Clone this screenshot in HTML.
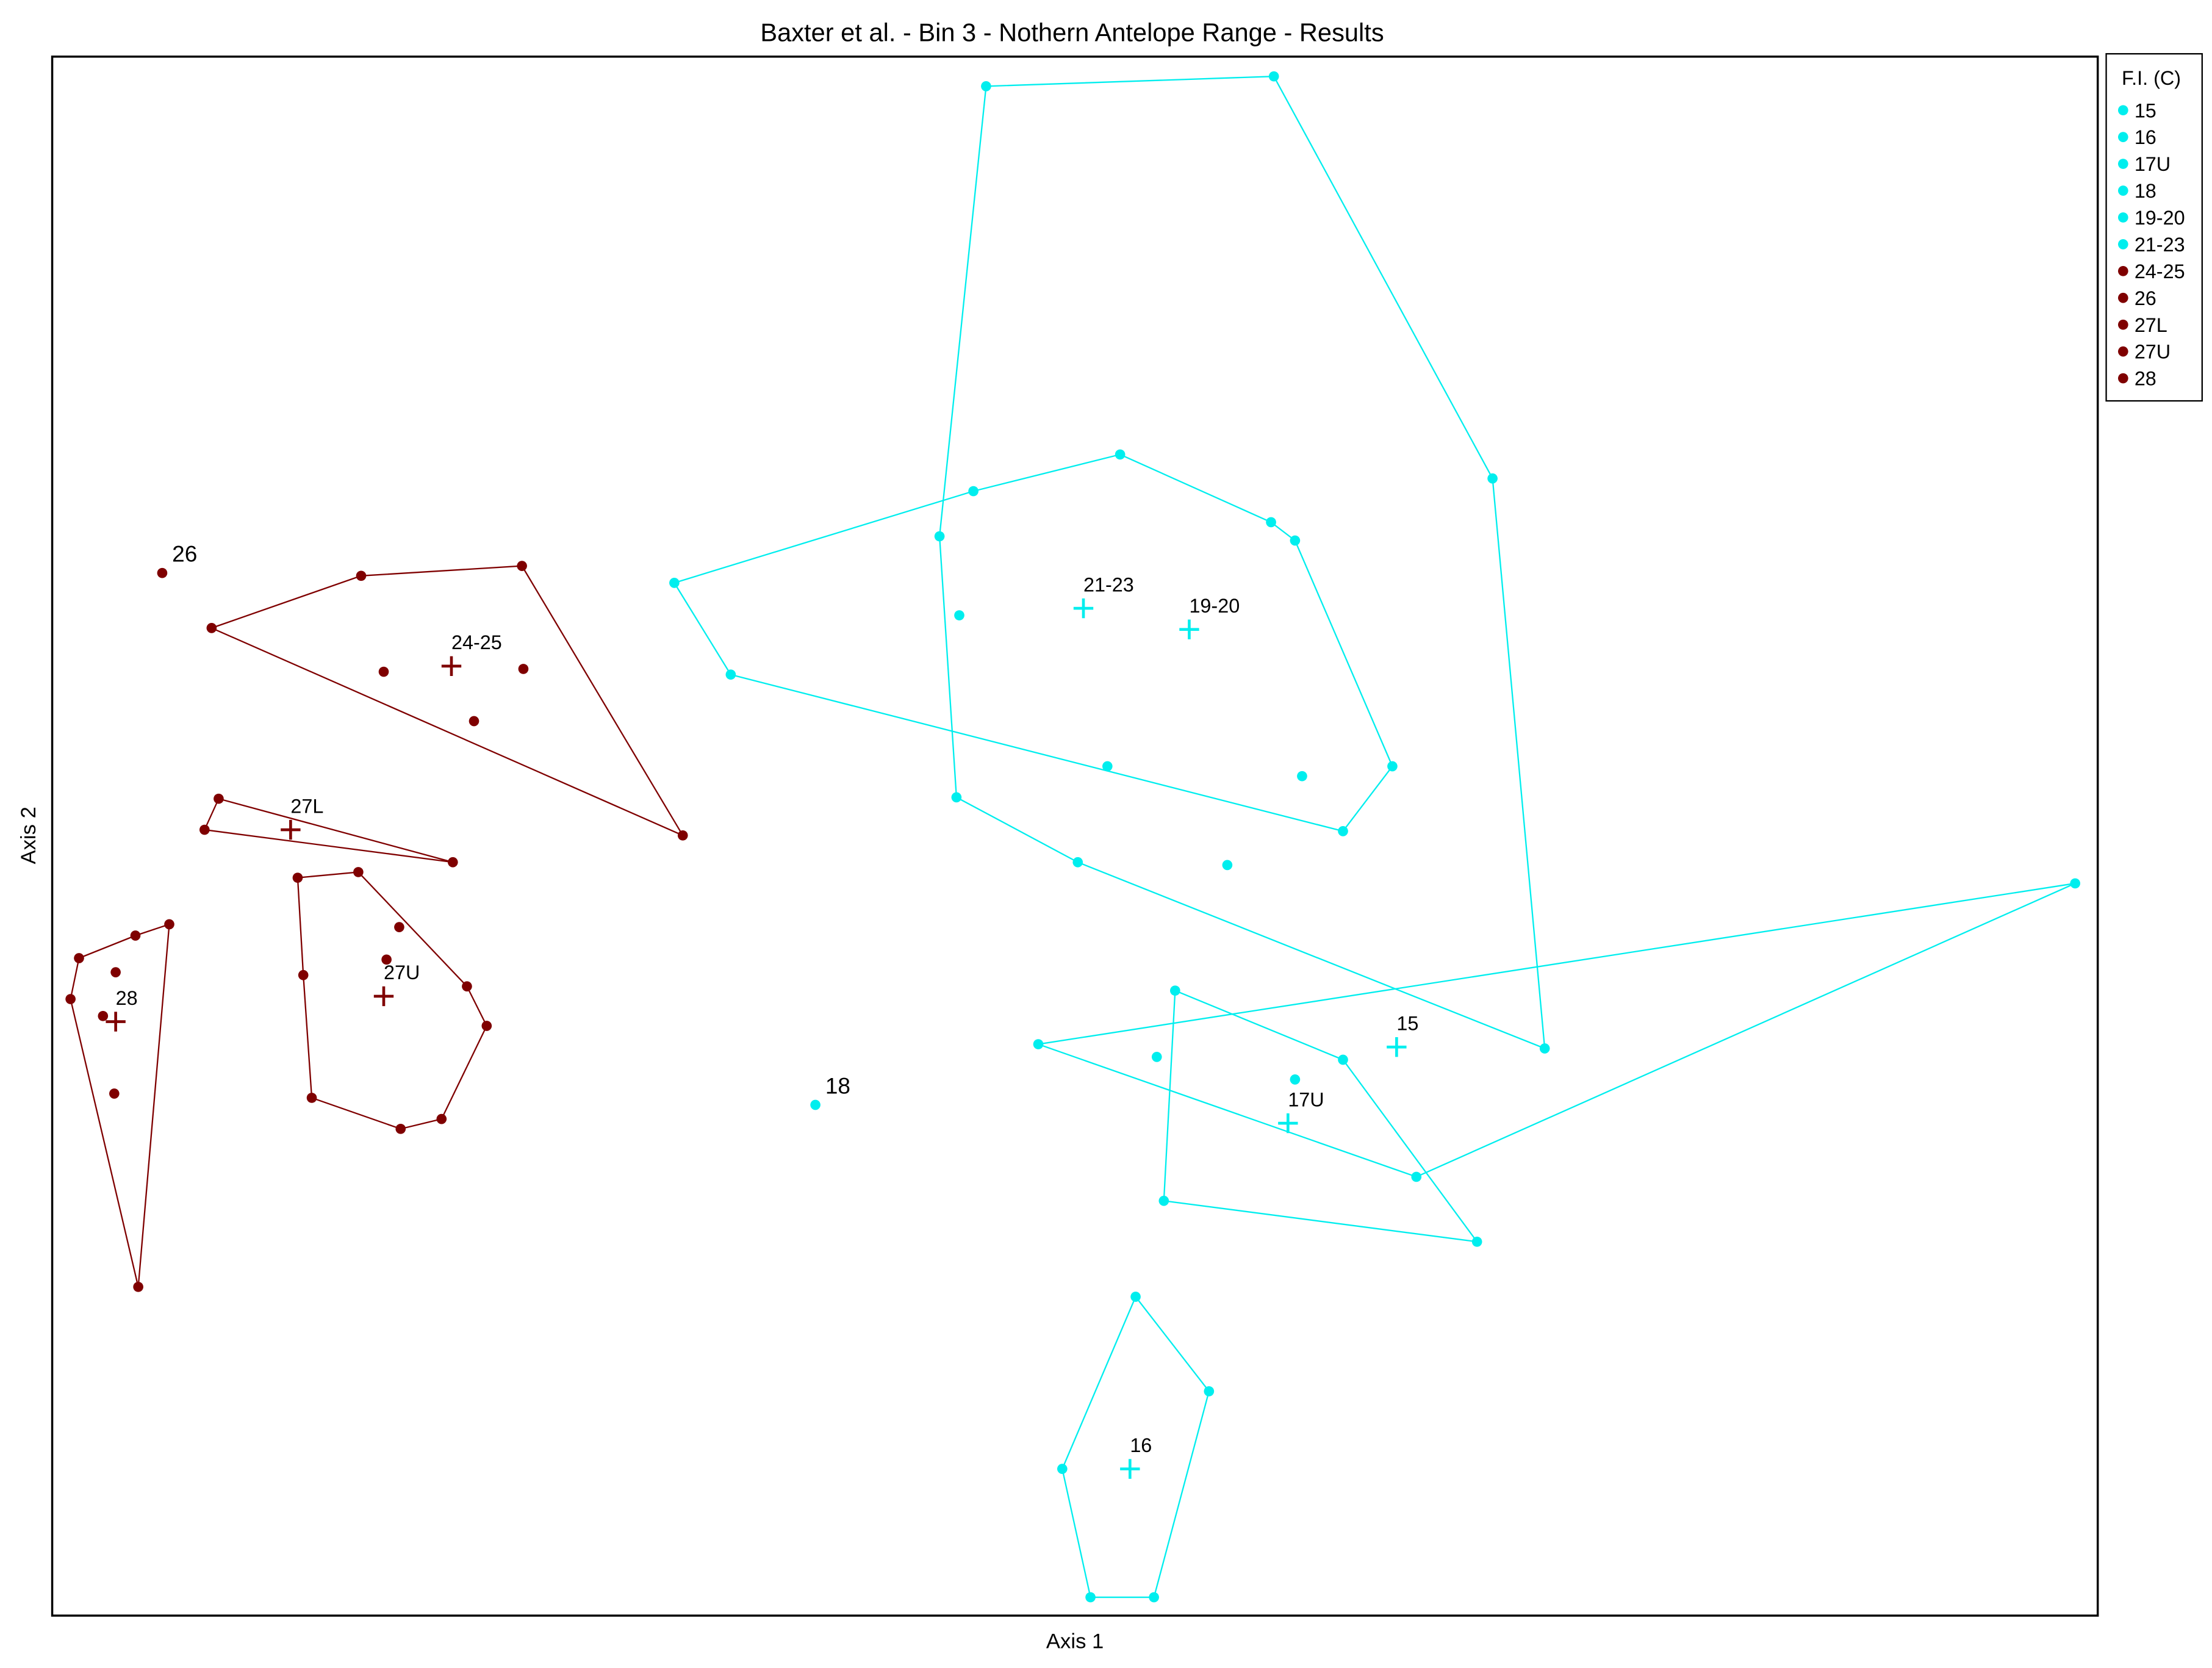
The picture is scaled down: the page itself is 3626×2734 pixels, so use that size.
<!DOCTYPE html>
<html><head><meta charset="utf-8"><style>
html,body{margin:0;padding:0;background:#fff;}
svg{display:block;font-family:"Liberation Sans",Arial,sans-serif;}
</style></head><body>
<svg id="chart" width="3626" height="2734" viewBox="0 0 1568 1182" xmlns="http://www.w3.org/2000/svg">
<rect x="0" y="0" width="1568" height="1182" fill="#fff"/>
<text x="760" y="29" font-size="18" text-anchor="middle">Baxter et al. - Bin 3 - Nothern Antelope Range - Results</text>
<rect x="37" y="40" width="1450" height="1105" fill="none" stroke="#000" stroke-width="1.5"/>
<text x="762" y="1168" font-size="15" text-anchor="middle">Axis 1</text>
<text x="25" y="592" font-size="15" text-anchor="middle" transform="rotate(-90 25 592)">Axis 2</text>
<g id="marks"></g>
<g>
<rect x="1493" y="38" width="68" height="246" fill="#fff" stroke="#000" stroke-width="1"/>
<text x="1504" y="60" font-size="14">F.I. (C)</text>
<g id="legend-items"></g>
</g>
</svg>
<script>
// Data in axis units
const groupNames = ["15","16","17U","18","19-20","21-23","24-25","26","27L","27U","28"];
const groupColors = ["#00EEEE","#00EEEE","#00EEEE","#00EEEE","#00EEEE","#00EEEE","#7F0000","#7F0000","#7F0000","#7F0000","#7F0000"];
const hull15 = [[736,740],[1471,626],[1004,834]];
const inner15 = [[820,749]];
const hull16 = [[805,919],[857,986],[818,1132],[773,1132],[753,1041]];
const inner16 = [];
const hull17U = [[833,702],[952,751],[1047,880],[825,851]];
const inner17U = [[918,765]];
const hull18 = [];
const inner18 = [[578,783]];
const hull1920 = [[699,61],[903,54],[1058,339],[1095,743],[764,611],[678,565],[666,380]];
const inner1920 = [[870,613]];
const hull2123 = [[478,413],[690,348],[794,322],[901,370],[918,383],[987,543],[952,589],[518,478]];
const inner2123 = [[680,436],[785,543],[923,550]];
const hull2425 = [[150,445],[256,408],[370,401],[484,592]];
const inner2425 = [[272,476],[371,474],[336,511]];
const hull26 = [];
const inner26 = [[115,406]];
const hull27L = [[155,566],[321,611],[145,588]];
const inner27L = [];
const hull27U = [[211,622],[254,618],[331,699],[345,727],[313,793],[284,800],[221,778],[215,691]];
const inner27U = [[283,657],[274,680]];
const hull28 = [[56,679],[96,663],[120,655],[98,912],[50,708]];
const inner28 = [[82,689],[73,720],[81,775]];
const centroids = [[990,742],[801,1041],[913,796],null,[843,446],[768,431],[320,472],null,[206,588],[272,706],[82,724]];
const hulls = [hull15,hull16,hull17U,hull18,hull1920,hull2123,hull2425,hull26,hull27L,hull27U,hull28];
const inners = [inner15,inner16,inner17U,inner18,inner1920,inner2123,inner2425,inner26,inner27L,inner27U,inner28];

const xDomain=[37,1487], yDomain=[40,1145];
const xRange=[37,1487], yRange=[40,1145];
function xs(v){return xRange[0]+(v-xDomain[0])/(xDomain[1]-xDomain[0])*(xRange[1]-xRange[0]);}
function ys(v){return yRange[0]+(v-yDomain[0])/(yDomain[1]-yDomain[0])*(yRange[1]-yRange[0]);}
const NS="http://www.w3.org/2000/svg";
const g=document.getElementById('marks');
function mk(t,a){const e=document.createElementNS(NS,t);for(const k in a)e.setAttribute(k,a[k]);return e;}
groupNames.forEach((name,i)=>{
  const col=groupColors[i];
  const h=hulls[i];
  if(h.length>1){
    const poly=mk('polygon',{points:h.map(p=>xs(p[0])+','+ys(p[1])).join(' '),fill:'none',stroke:col,'stroke-width':1});
    
    
    g.appendChild(poly);
  }
  h.concat(inners[i]).forEach(p=>{
    const c=mk('circle',{cx:xs(p[0]),cy:ys(p[1]),r:3.6,fill:col});
    
    
    g.appendChild(c);
  });
  const ct=centroids[i];
  if(ct){
    const cx=xs(ct[0]),cy=ys(ct[1]);
    const cr=mk('path',{d:`M${cx-7},${cy}H${cx+7}M${cx},${cy-7}V${cy+7}`,stroke:col,'stroke-width':2,fill:'none'});
    
    
    g.appendChild(cr);
    const t=mk('text',{x:cx,y:cy-12,'font-size':14,fill:'#000'});
    t.textContent=name;
    
    
    g.appendChild(t);
  } else {
    const p=inners[i][0];
    const t=mk('text',{x:xs(p[0])+7,y:ys(p[1])-8,'font-size':16,fill:'#000'});
    t.textContent=name;
    
    
    g.appendChild(t);
  }
});
const lg=document.getElementById('legend-items');
groupNames.forEach((name,i)=>{
  const y=78+i*19;
  const c=mk('circle',{cx:1505,cy:y,r:3.6,fill:groupColors[i]});
  
  
  lg.appendChild(c);
  const t=mk('text',{x:1513,y:y+5,'font-size':14});
  t.textContent=name;
  
  
  lg.appendChild(t);
});
</script>
</body></html>
